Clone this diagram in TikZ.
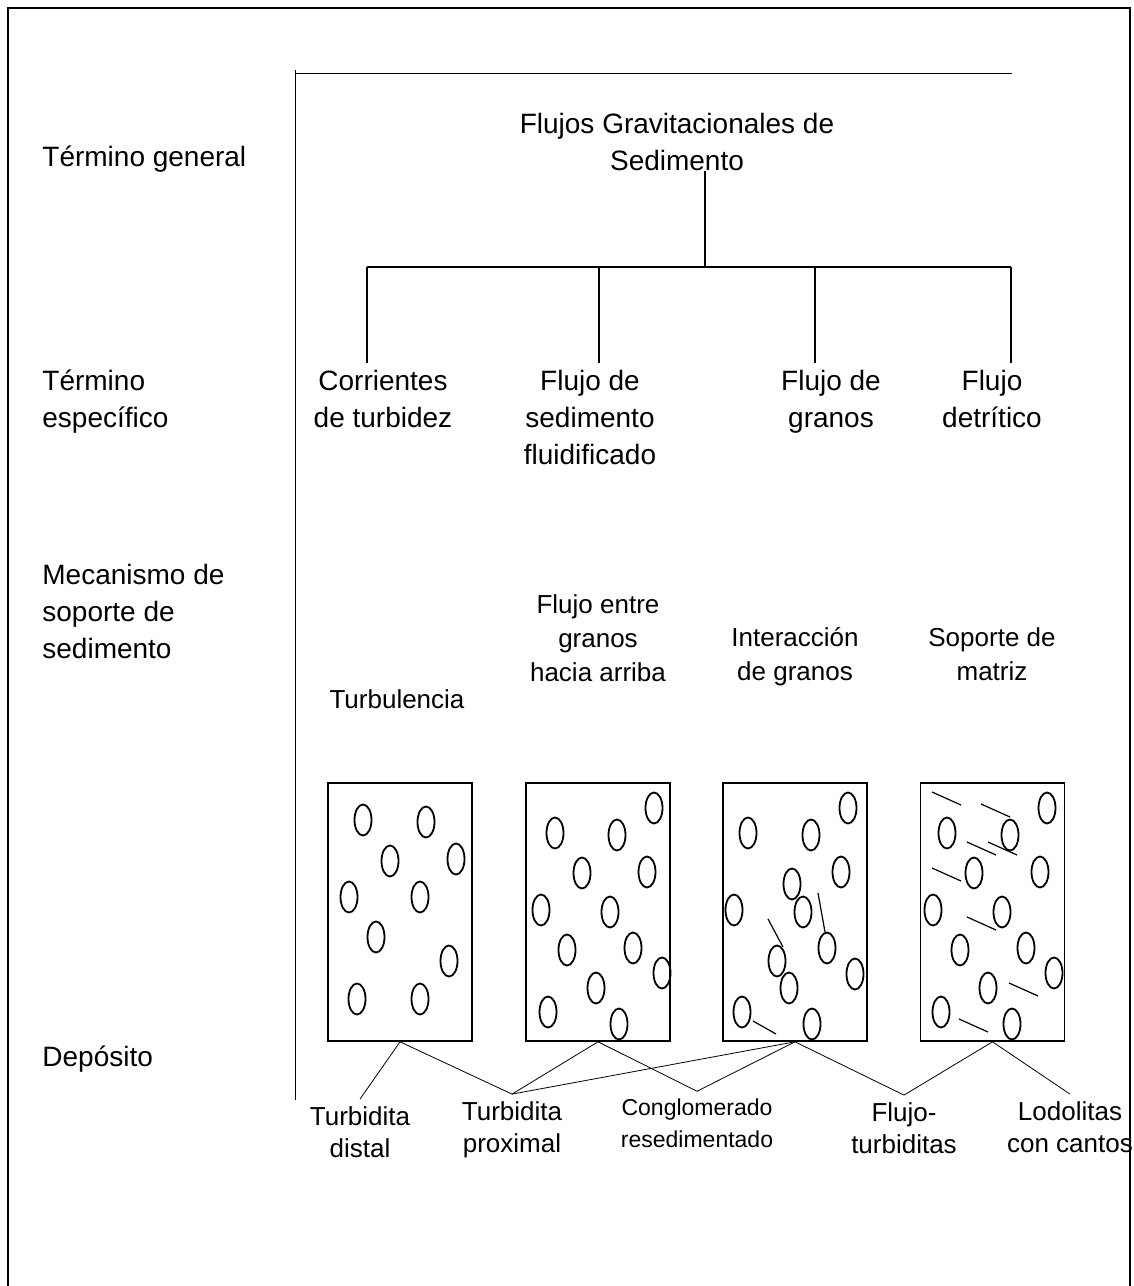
\documentclass[tikz,border=0pt]{standalone}
\usepackage{fontspec}
\setmainfont{Liberation Sans}
\usetikzlibrary{positioning}

\begin{document}
\begin{tikzpicture}[
  x=0.5pt, y=-0.5pt,
  rowlabel/.style={anchor=base west, align=left, inner sep=0pt, font=\fontsize{14}{18.5}\selectfont},
  term/.style={anchor=base, align=center, inner sep=0pt, font=\fontsize{14}{18.5}\selectfont},
  mech/.style={anchor=base, align=center, inner sep=0pt, font=\fontsize{13}{17}\selectfont},
  deposit/.style={anchor=base, align=center, font=\fontsize{13}{16}\selectfont},
  core/.style={rectangle, draw=black, line width=0.8pt, minimum width=72pt, minimum height=129pt, inner sep=0pt},
  frame/.style={line width=0.75pt},
  axis/.style={line width=0.45pt},
  tree/.style={line width=1.2pt},
  grain/.style={line width=0.9pt},
  streak/.style={line width=0.6pt},
  link/.style={line width=0.4pt}
]
\useasboundingbox (0,0) rectangle (1134,1286);

% --- Rahmen und Achsen ---
\draw[frame] (8,1286) |- (1130,8) -- (1130,1286);
\draw[axis] (295,1100) -- (295,70);
\draw[axis] (295,73) -- (1012,73);

% --- Zeilenbeschriftung links (base = letzte Zeile) ---
\node[rowlabel] (tgen) at (42,166) {Término general};
\node[rowlabel] (tesp) at (42,427) {Término\\específico};
\node[rowlabel] (tmec) at (42,658) {Mecanismo de\\soporte de\\sedimento};
\node[rowlabel] (tdep) at (42,1066) {Depósito};

% --- Baum ---
\node[term] (root) at (677,170) {Flujos Gravitacionales de\\Sedimento};
\node[term] (corr)   at (383,427) {Corrientes\\de turbidez};
\node[term] (fluid)  at (590,464) {Flujo de\\sedimento\\fluidificado};
\node[term] (granos) at (831,427) {Flujo de\\granos};
\node[term] (detr)   at (992,427) {Flujo\\detrítico};

\coordinate (hub) at (705,267);
\coordinate (b1) at (367,267);
\coordinate (b2) at (599,267);
\coordinate (b3) at (815,267);
\coordinate (b4) at (1011,267);

\draw[tree] (hub) -- (hub |- root.south);
\draw[tree] (b1) -- (b4);
\foreach \b in {b1,b2,b3,b4}
  \draw[tree] (\b) -- ++(0,96);

% --- Mecanismo de soporte ---
\node[mech] (turb)   at (397,708) {Turbulencia};
\node[mech] (entre)  at (598,681) {Flujo entre\\granos\\hacia arriba};
\node[mech] (inter)  at (795,680) {Interacción\\de granos};
\node[mech] (matriz) at (992,680) {Soporte de\\matriz};

% --- Kerne ---
\node[core] (box1) at (400,912) {};
\node[core] (box2) at (598,912) {};
\node[core] (box3) at (795,912) {};
\node[core] (box4) at (992.5,912) {};

\foreach \x/\y in {363/820,426/822,390/861,456/859,349/897,420/897,376/937,449/961,357/999,420/999}
  \draw[grain] (\x,\y) ellipse [x radius=8.5, y radius=15.5];
\foreach \x/\y in {654/808,555/833,617/835,582/873,647/872,541/910,610/912,567/950,633/948,662/973,596/988,548/1012,619/1024}
  \draw[grain] (\x,\y) ellipse [x radius=8.5, y radius=15.5];
\foreach \x/\y in {848/808,748/833,811/835,841/872,792/884,734/910,803/912,827/948,777/961,855/974,789/988,742/1012,812/1024}
  \draw[grain] (\x,\y) ellipse [x radius=8.5, y radius=15.5];
\foreach \x/\y in {1047/808,947/833,1010/835,974/873,1040/872,933/910,1002/912,960/950,1026/948,1054/973,988/988,941/1012,1012/1024}
  \draw[grain] (\x,\y) ellipse [x radius=8.5, y radius=15.5];

% Striche in den Kernen
\draw[streak] (768,919) -- (783,947);
\draw[streak] (818,893) -- (825,932);
\draw[streak] (753,1021) -- (776,1034);
\foreach \x/\y in {932/792,981/804,967/842,988/842,932/868,967/917,1009/983,959/1019}
  \draw[streak] (\x,\y) -- ++(29,13);

% --- Ablagerungen ---
\node[deposit] (distal)   at (360,1157) {Turbidita\\distal};
\node[deposit] (proximal) at (512,1152) {Turbidita\\proximal};
\node[deposit, font=\fontsize{11.5}{16}\selectfont] (congl) at (697,1147) {Conglomerado\\resedimentado};
\node[deposit] (fturb)    at (904,1153) {Flujo-\\turbiditas};
\node[deposit] (lodol)    at (1070,1152) {Lodolitas\\con cantos};

% Verbindungen
\foreach \a/\b in {box1/distal, box1/proximal, box2/proximal, box2/congl,
                   box3/proximal, box3/congl, box3/fturb, box4/fturb, box4/lodol}
  \draw[link] (\a.south) -- (\b.north);
\end{tikzpicture}
\end{document}
